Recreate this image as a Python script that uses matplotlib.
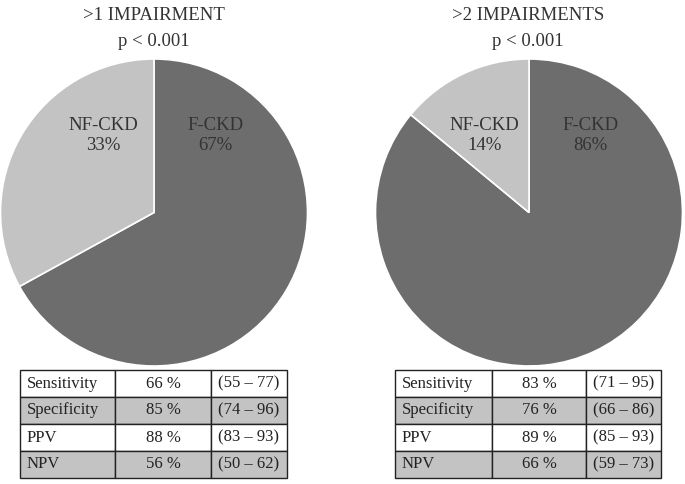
import matplotlib.pyplot as plt

plt.rcParams['font.family'] = ['Liberation Serif', 'DejaVu Serif']

# data
groups = ['>1 IMPAIRMENT', '>2 IMPAIRMENTS']
p_values = ['p < 0.001', 'p < 0.001']
pie_labels = ['F-CKD', 'NF-CKD']
pie_values = [[67, 33], [86, 14]]
metrics = ['Sensitivity', 'Specificity', 'PPV', 'NPV']
metric_values = [['66 %', '85 %', '88 %', '56 %'],
                 ['83 %', '76 %', '89 %', '66 %']]
metric_ci = [['(55 – 77)', '(74 – 96)', '(83 – 93)', '(50 – 62)'],
             ['(71 – 95)', '(66 – 86)', '(85 – 93)', '(59 – 73)']]

dark = '#6d6d6d'
light = '#c3c3c3'
txt = '#333333'

W, H = 685, 484
fig = plt.figure(figsize=(6.85, 4.84), dpi=100)

def fbox(x0, y0, x1, y1):
    # pixel box -> figure fraction [left, bottom, width, height]
    return [x0 / W, 1 - y1 / H, (x1 - x0) / W, (y1 - y0) / H]

pie_boxes = [(0, 59, 308, 366), (375, 59, 683, 366)]
tab_boxes = [(20, 370, 287, 478), (395, 370, 661, 478)]
title_x = [154, 528]
col_w = [[95, 96, 76], [97, 94, 75]]
nf_label_x = [-0.33, -0.29]

for i in range(2):
    ax = fig.add_axes(fbox(*pie_boxes[i]))
    wedges, _ = ax.pie(pie_values[i], colors=[dark, light], startangle=90,
                       counterclock=False,
                       wedgeprops=dict(edgecolor='white', linewidth=1.2))
    ax.set_xlim(-1, 1)
    ax.set_ylim(-1, 1)
    ax.set_aspect('equal')
    ax.axis('off')
    ax.text(0.40, 0.50, f'{pie_labels[0]}\n{pie_values[i][0]}%', ha='center',
            va='center', fontsize=13.5, color=txt, linespacing=1.25)
    ax.text(nf_label_x[i], 0.50, f'{pie_labels[1]}\n{pie_values[i][1]}%', ha='center',
            va='center', fontsize=13.5, color=txt, linespacing=1.25)

    fig.text(title_x[i] / W, 1 - 16 / H, groups[i], ha='center', va='center',
             fontsize=13.5, color=txt)
    fig.text(title_x[i] / W, 1 - 42 / H, p_values[i], ha='center', va='center',
             fontsize=13.5, color=txt)

    tax = fig.add_axes(fbox(*tab_boxes[i]))
    tax.axis('off')
    rows = [[m, v, c] for m, v, c in zip(metrics, metric_values[i], metric_ci[i])]
    tot = sum(col_w[i])
    tbl = tax.table(cellText=rows, bbox=[0, 0, 1, 1],
                    colWidths=[w / tot for w in col_w[i]], cellLoc='center')
    tbl.auto_set_font_size(False)
    for (r, c), cell in tbl.get_celld().items():
        cell.set_edgecolor('#222222')
        cell.set_linewidth(1.0)
        cell.set_facecolor(light if r % 2 == 1 else 'white')
        cell.get_text().set_fontsize(12)
        cell.get_text().set_color('#222222')
        if c == 0:
            cell.get_text().set_ha('left')
            cell.PAD = 0.07

fig.savefig('out.png', dpi=100)
